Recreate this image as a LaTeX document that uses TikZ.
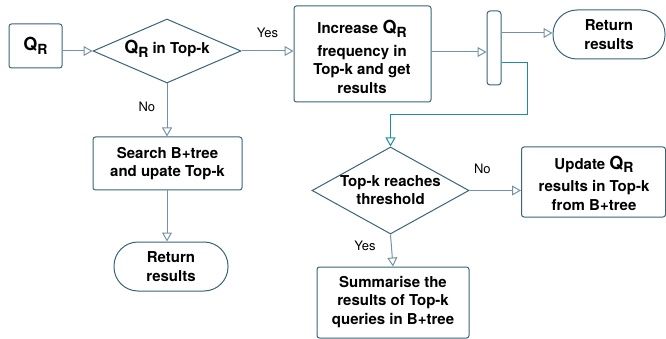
\documentclass[tikz,border=0pt]{standalone}
\usepackage{fontspec}
\setmainfont{TeX Gyre Heros}
\usetikzlibrary{shapes.geometric,arrows.meta}
\definecolor{edge}{HTML}{3A6478}
\definecolor{arr}{HTML}{7393A5}
\definecolor{teal}{HTML}{1F8C9E}
\newcommand{\QR}{{\fontsize{18}{18}\selectfont Q}\raisebox{-3.5pt}{\fontsize{14}{14}\selectfont R}}
\tikzset{
  box/.style={draw=edge, line width=1pt, rounded corners=2.5pt, inner sep=0pt, align=center},
  term/.style={draw=edge, line width=1pt, rounded corners=24pt, inner sep=0pt, align=center},
  dia/.style={draw=edge, line width=1pt, diamond, inner sep=0pt},
  txt/.style={font=\fontsize{15}{18.5}\selectfont\bfseries, align=center},
  lbl/.style={font=\fontsize{13}{15}\selectfont},
  flow/.style={draw=arr, line width=1pt, -{Triangle[open, length=9pt, width=10pt]}},
  tflow/.style={draw=teal, line width=1pt, -{Triangle[open, length=9pt, width=10pt]}}
}
\begin{document}
\begin{tikzpicture}[x=1pt,y=-1pt]
\useasboundingbox (0,0) rectangle (666,339);
\node[box, minimum width=53pt, minimum height=44pt] (q) at (35.5,46) {};
\node[txt] at (q) {\QR};
\node[dia, minimum width=148pt, minimum height=64pt] (d1) at (167,51) {};
\node[txt] at (167,49) {\QR{} in Top-k};
\node[box, minimum width=137pt, minimum height=96pt] (inc) at (362.5,54) {};
\node[txt] at (362,57) {Increase \QR\\[4pt]frequency in\\Top-k and get\\results};
\node[box, rounded corners=3pt, minimum width=14pt, minimum height=74pt] (bar) at (494,48) {};
\node[term, minimum width=112pt, minimum height=49pt] (r1) at (609,34.5) {};
\node[txt] at (r1) {Return\\results};
\node[dia, minimum width=157pt, minimum height=87pt] (d2) at (390.5,190.5) {};
\node[txt] at (390.5,190) {Top-k reaches\\threshold};
\node[box, minimum width=144pt, minimum height=70pt] (up) at (593.5,182) {};
\node[txt] at (594,183) {Update \QR\\[4pt]results in Top-k\\from B+tree};
\node[box, minimum width=152pt, minimum height=71pt] (sum) at (393,302.5) {};
\node[txt] at (393,302) {Summarise the\\results of Top-k\\queries in B+tree};
\node[box, minimum width=149pt, minimum height=53pt] (se) at (167.5,163.5) {};
\node[txt] at (se) {Search B+tree\\and upate Top-k};
\node[term, minimum width=114pt, minimum height=49pt] (r2) at (171,266.5) {};
\node[txt] at (r2) {Return\\results};
% connectors
\draw[flow] (q.east |- d1.west) -- (d1.west);
\draw[flow] (d1.east) -- node[lbl, above, pos=0.5, yshift=9pt] {Yes} (inc.west |- d1.east);
\draw[flow] (d1.south) -- node[lbl, left, pos=0.45, xshift=-8pt] {No} (se.north -| d1.south);
\draw[flow] (se.south -| d1.south) -- (r2.north -| d1.south);
\draw[flow] (inc.east |- 0,52) -- (bar.west |- 0,52);
\draw[flow] (bar.east |- 0,33) -- (r1.west |- 0,33);
\coordinate (t1) at (527,63);
\coordinate (t2) at (527,115);
\coordinate (t3) at (390.5,115);
\draw[tflow] (bar.east |- t1) -- (t1) -- (t2) -- (t3) -- (d2.north);
\draw[flow] (d2.east) -- node[lbl, above, pos=0.25, yshift=13pt] {No} (up.west |- d2.east);
\draw[flow] (d2.south) -- node[lbl, left, pos=0.35, xshift=-12pt] {Yes} (sum.north);
\end{tikzpicture}
\end{document}
